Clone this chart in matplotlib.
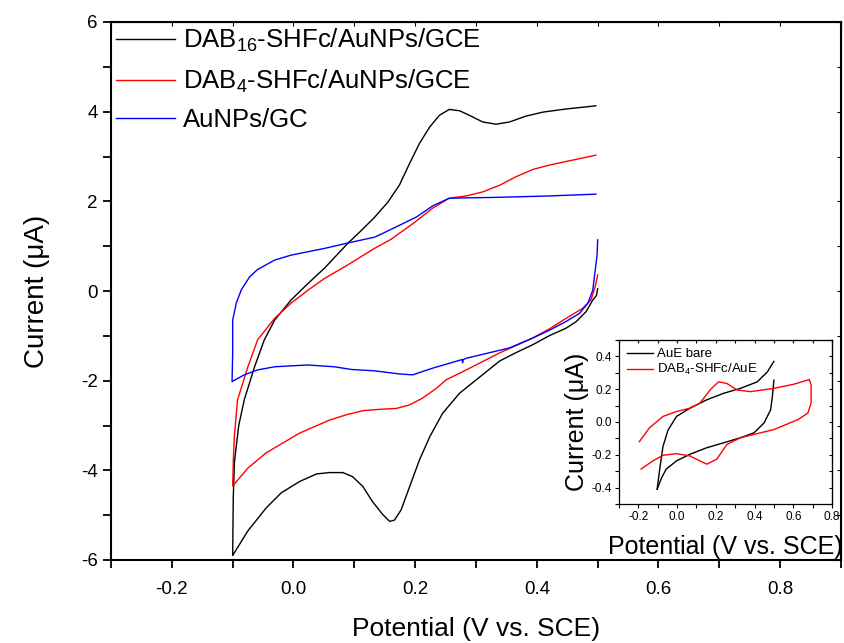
import matplotlib
matplotlib.use("Agg")
import matplotlib.pyplot as plt
from matplotlib.ticker import MultipleLocator, FixedLocator

plt.rcParams['font.family'] = ['Liberation Sans', 'DejaVu Sans']
plt.rcParams['mathtext.fontset'] = 'custom'
plt.rcParams['mathtext.rm'] = 'Liberation Sans'
plt.rcParams['mathtext.it'] = 'Liberation Sans:italic'
plt.rcParams['axes.unicode_minus'] = False

# ---------------- main chart data (V vs. SCE, uA) ----------------
dab16_x = [0.5, 0.498, 0.492, 0.481, 0.465, 0.448, 0.42, 0.393, 0.365, 0.339, 0.306, 0.273,
           0.245, 0.224, 0.207, 0.191, 0.177, 0.166, 0.158, 0.147, 0.13, 0.114, 0.097, 0.081,
           0.059, 0.038, 0.01, -0.02, -0.045, -0.075, -0.1,
           -0.099, -0.097, -0.09, -0.081, -0.064, -0.048, -0.031, -0.004, 0.024, 0.051, 0.089,
           0.11, 0.133, 0.155, 0.174, 0.191, 0.207, 0.224, 0.24, 0.256, 0.273, 0.289, 0.311,
           0.333, 0.355, 0.382, 0.41, 0.448, 0.497]
dab16_y = [0.05, -0.1, -0.2, -0.46, -0.68, -0.83, -1.0, -1.2, -1.38, -1.56, -1.92, -2.28,
           -2.73, -3.25, -3.77, -4.36, -4.88, -5.11, -5.14, -4.99, -4.7, -4.36, -4.14, -4.05,
           -4.05, -4.08, -4.25, -4.5, -4.84, -5.35, -5.9,
           -4.6, -3.8, -3.0, -2.43, -1.69, -1.09, -0.65, -0.2, 0.17, 0.51, 1.06,
           1.33, 1.64, 1.98, 2.36, 2.85, 3.29, 3.66, 3.92, 4.05, 4.02, 3.92, 3.77,
           3.72, 3.77, 3.9, 3.99, 4.06, 4.13]

dab4_x = [0.5, 0.496, 0.489, 0.475, 0.448, 0.42, 0.393, 0.339, 0.284, 0.251, 0.235, 0.212,
          0.191, 0.169, 0.141, 0.114, 0.087, 0.059, 0.01, -0.045, -0.075, -0.1,
          -0.099, -0.097, -0.092, -0.075, -0.059, -0.031, -0.004, 0.024, 0.051, 0.089, 0.133,
          0.16, 0.196, 0.229, 0.256, 0.284, 0.311, 0.339, 0.366, 0.393, 0.421, 0.459, 0.497]
dab4_y = [0.36, 0.1, -0.2, -0.39, -0.61, -0.85, -1.05, -1.38, -1.76, -1.98, -2.17, -2.39,
          -2.54, -2.62, -2.64, -2.67, -2.76, -2.88, -3.17, -3.61, -3.95, -4.35,
          -3.8, -3.2, -2.43, -1.69, -1.09, -0.61, -0.27, 0.02, 0.28, 0.58, 0.95,
          1.15, 1.5, 1.85, 2.07, 2.12, 2.21, 2.36, 2.55, 2.71, 2.81, 2.92, 3.03]

aunp_x = [0.5, 0.499, 0.496, 0.492, 0.484, 0.47, 0.448, 0.42, 0.393, 0.355, 0.284, 0.279,
          0.278, 0.277, 0.229, 0.196, 0.174, 0.133, 0.095, 0.067, 0.023, -0.031, -0.059,
          -0.081, -0.101,
          -0.1, -0.1, -0.094, -0.086, -0.072, -0.059, -0.031, -0.004, 0.051, 0.089, 0.133,
          0.146, 0.202, 0.229, 0.256, 0.339, 0.42, 0.497]
aunp_y = [1.14, 0.8, 0.47, 0.02, -0.27, -0.5, -0.68, -0.88, -1.05, -1.27, -1.5, -1.53,
          -1.6, -1.53, -1.72, -1.87, -1.85, -1.78, -1.75, -1.69, -1.65, -1.69, -1.76,
          -1.87, -2.02,
          -1.4, -0.65, -0.27, 0.02, 0.32, 0.48, 0.69, 0.8, 0.95, 1.07, 1.2,
          1.28, 1.65, 1.9, 2.07, 2.09, 2.12, 2.16]

main_labels = [r'DAB$_{\mathregular{16}}$-SHFc/AuNPs/GCE',
               r'DAB$_{\mathregular{4}}$-SHFc/AuNPs/GCE',
               'AuNPs/GC']

# ---------------- inset data ----------------
aue_x = [-0.103, -0.09, -0.073, -0.047, -0.003, 0.066, 0.153, 0.24, 0.327, 0.414, 0.466, 0.5]
aue_y = [-0.41, -0.29, -0.15, -0.05, 0.034, 0.084, 0.135, 0.175, 0.205, 0.245, 0.305, 0.37]
aue_x2 = [0.5, 0.492, 0.483, 0.449, 0.397, 0.327, 0.24, 0.153, 0.066, -0.003, -0.056, -0.08, -0.103]
aue_y2 = [0.255, 0.155, 0.074, -0.006, -0.066, -0.096, -0.127, -0.157, -0.197, -0.237, -0.287, -0.34, -0.41]

dab4aue_x = [-0.195, -0.143, -0.073, -0.003, 0.066, 0.118, 0.17, 0.214, 0.257, 0.31, 0.379, 0.5,
             0.605, 0.683, 0.692, 0.692, 0.675, 0.623, 0.5, 0.327, 0.257, 0.205, 0.153, 0.118,
             0.066, -0.003, -0.073, -0.125, -0.186]
dab4aue_y = [-0.12, -0.036, 0.034, 0.064, 0.084, 0.115, 0.195, 0.245, 0.235, 0.195, 0.185, 0.205,
             0.231, 0.259, 0.225, 0.115, 0.054, 0.014, -0.046, -0.096, -0.137, -0.227, -0.257, -0.237,
             -0.207, -0.193, -0.203, -0.237, -0.287]

inset_labels = ['AuE bare', r'DAB$_{\mathregular{4}}$-SHFc/AuE']

# ---------------- figure ----------------
fig = plt.figure(figsize=(8.45, 6.43), dpi=100)
ax = fig.add_axes([111/845, 1-560/643, 730/845, 538/643])

ax.plot(dab16_x, dab16_y, color='black', lw=1.0, label=main_labels[0])
ax.plot(dab4_x, dab4_y, color='red', lw=1.0, label=main_labels[1])
ax.plot(aunp_x, aunp_y, color='blue', lw=1.0, label=main_labels[2])

ax.set_xlim(-0.3, 0.9)
ax.set_ylim(-6, 6)
ax.xaxis.set_major_locator(FixedLocator([-0.2, 0.0, 0.2, 0.4, 0.6, 0.8]))
ax.xaxis.set_minor_locator(FixedLocator([-0.3, -0.1, 0.1, 0.3, 0.5, 0.7, 0.9]))
ax.yaxis.set_major_locator(MultipleLocator(2))
ax.yaxis.set_minor_locator(MultipleLocator(1))
ax.tick_params(which='both', direction='out', length=6, width=1.3, labelsize=13.5)
ax.tick_params(axis='x', pad=9)
for s in ax.spines.values():
    s.set_linewidth(1.5)
ax.set_xticklabels(['-0.2', '0.0', '0.2', '0.4', '0.6', '0.8'])
ax.set_xlabel('Potential (V vs. SCE)', fontsize=19, labelpad=14)
ax.set_ylabel('Current (\u03bcA)', fontsize=20, labelpad=22)

top = ax.secondary_xaxis('top')
top.xaxis.set_major_locator(MultipleLocator(0.1))
top.tick_params(direction='in', length=3, labeltop=False)
right = ax.secondary_yaxis('right')
right.yaxis.set_major_locator(MultipleLocator(1))
right.tick_params(direction='in', length=3, labelright=False)

ax.legend(loc='upper left', frameon=False, fontsize=18.5, handlelength=2.3,
          handletextpad=0.3, labelspacing=0.52, borderpad=0.1, borderaxespad=0.1,
          bbox_to_anchor=(0.0, 1.0))

# ---------------- inset ----------------
ins = fig.add_axes([619/845, 1-504/643, 213/845, 164/643])
ins.plot(aue_x, aue_y, color='black', lw=1.0, label=inset_labels[0])
ins.plot(aue_x2, aue_y2, color='black', lw=1.0)
ins.plot(dab4aue_x, dab4aue_y, color='red', lw=1.0, label=inset_labels[1])
ins.set_xlim(-0.3, 0.8)
ins.set_ylim(-0.5, 0.5)
ins.xaxis.set_major_locator(FixedLocator([-0.2, 0.0, 0.2, 0.4, 0.6, 0.8]))
ins.xaxis.set_minor_locator(MultipleLocator(0.1))
ins.yaxis.set_major_locator(FixedLocator([-0.4, -0.2, 0.0, 0.2, 0.4]))
ins.yaxis.set_minor_locator(MultipleLocator(0.1))
ins.set_xticklabels(['-0.2', '0.0', '0.2', '0.4', '0.6', '0.8'])
ins.set_yticklabels(['-0.4', '-0.2', '0.0', '0.2', '0.4'])
ins.tick_params(which='both', direction='out', length=3, width=0.8, labelsize=8.5, pad=2)
for s in ins.spines.values():
    s.set_linewidth(0.9)
itop = ins.secondary_xaxis('top')
itop.xaxis.set_major_locator(MultipleLocator(0.1))
itop.tick_params(direction='in', length=2, labeltop=False)
iright = ins.secondary_yaxis('right')
iright.yaxis.set_major_locator(MultipleLocator(0.1))
iright.tick_params(direction='in', length=2, labelright=False)
ins.set_xlabel('Potential (V vs. SCE)', fontsize=18, labelpad=9)
ins.set_ylabel('Current (\u03bcA)', fontsize=18, labelpad=2)
ins.legend(loc='upper left', frameon=False, fontsize=9.5, handlelength=2.0,
           handletextpad=0.3, labelspacing=0.15, borderaxespad=0.2)

fig.savefig('out.png', dpi=100)
